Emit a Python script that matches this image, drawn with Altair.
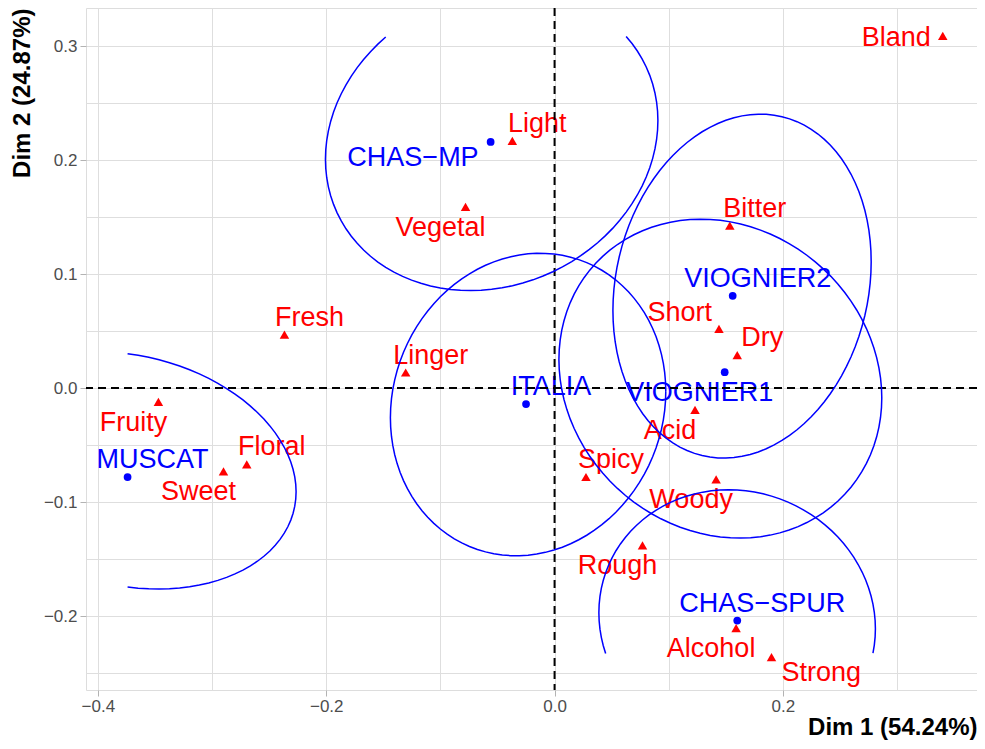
import numpy as np
import pandas as pd
import altair as alt

# ---------------- data ----------------
row_names = ["CHAS\u2212MP", "VIOGNIER2", "VIOGNIER1", "ITALIA", "MUSCAT", "CHAS\u2212SPUR"]
row_x = [-0.056, 0.156, 0.149, -0.025, -0.374, 0.160]
row_y = [0.216, 0.081, 0.014, -0.014, -0.078, -0.204]
row_place = ["wsw", "ne", "sw", "ne", "ne", "ne"]

col_names = ["Bland", "Light", "Vegetal", "Bitter", "Fresh", "Short", "Dry", "Linger",
             "Fruity", "Acid", "Floral", "Sweet", "Spicy", "Woody", "Rough", "Alcohol", "Strong"]
col_x = [0.340, -0.037, -0.078, 0.1535, -0.2366, 0.144, 0.160, -0.1304,
         -0.347, 0.123, -0.2696, -0.290, 0.0275, 0.1415, 0.077, 0.159, 0.190]
col_y = [0.309, 0.217, 0.159, 0.1426, 0.047, 0.052, 0.029, 0.0137,
         -0.012, -0.019, -0.067, -0.073, -0.078, -0.080, -0.138, -0.2105, -0.236]
col_place = ["w", "ne", "sw", "ne", "ne", "nw", "ne", "ne",
             "sw", "sw", "ne", "sw", "ne", "sw", "sw", "sw", "se"]

# confidence ellipses: centre, spread along each axis, correlation
ell_names = row_names
ell_cx = [-0.0551, 0.1642, 0.1452, -0.0232, -0.374, 0.1599]
ell_cy = [0.2178, 0.0895, 0.0083, -0.0144, -0.0722, -0.2041]
ell_sx = [0.1456, 0.1131, 0.1414, 0.1206, 0.1476, 0.1211]
ell_sy = [0.1322, 0.1509, 0.1399, 0.1327, 0.1041, 0.1149]
ell_rho = [0.128, 0.142, -0.120, 0.087, -0.180, -0.061]

x_title = "Dim 1 (54.24%)"
y_title = "Dim 2 (24.87%)"
x_grid_values = [-0.4, -0.3, -0.2, -0.1, 0.0, 0.1, 0.2, 0.3]
y_grid_values = [-0.25, -0.2, -0.15, -0.1, -0.05, 0.0, 0.05, 0.1, 0.15, 0.2, 0.25, 0.3]

# ---------------- tables ----------------
rows = pd.DataFrame({"label": row_names, "x": row_x, "y": row_y, "place": row_place})
cols = pd.DataFrame({"label": col_names, "x": col_x, "y": col_y, "place": col_place})

all_x = np.array(row_x + col_x)
all_y = np.array(row_y + col_y)
xmin, xmax = all_x.min(), all_x.max()
ymin, ymax = all_y.min(), all_y.max()
x_lo = xmin - 0.051 * (xmax - xmin)
x_hi = xmax + 0.042 * (xmax - xmin)
y_lo = ymin - 0.053 * (ymax - ymin)
y_hi = ymax + 0.045 * (ymax - ymin)

recs = []
n = 100
t = np.linspace(0, 2 * np.pi, n, endpoint=False)
for name, cx, cy, sx, sy, r in zip(ell_names, ell_cx, ell_cy, ell_sx, ell_sy, ell_rho):
    ex = cx + sx * np.cos(t)
    ey = cy + sy * (r * np.cos(t) + np.sqrt(1 - r * r) * np.sin(t))
    inside = (ex >= xmin) & (ex <= xmax) & (ey >= ymin) & (ey <= ymax)
    if inside.all():
        ex = np.append(ex, ex[0])
        ey = np.append(ey, ey[0])
        keep = np.ones(len(ex), bool)
    else:
        start = [i for i in range(n) if inside[i] and not inside[i - 1]][0]
        ex = np.roll(ex, -start)
        ey = np.roll(ey, -start)
        keep = np.roll(inside, -start)
    for k, (a, b, kk) in enumerate(zip(ex, ey, keep)):
        if kk:
            recs.append({"name": name, "k": k, "x": float(a), "y": float(b)})
ell = pd.DataFrame(recs)

FONT = "Liberation Sans"

x_major = "abs(datum.value*5 - round(datum.value*5)) < 0.000001"
y_major = "abs(datum.value*10 - round(datum.value*10)) < 0.000001"

common_axis = dict(
    grid=True, gridColor="#DEDEDE", gridWidth=1, domain=False,
    tickColor="#B3B3B3", tickWidth=1, tickSize=6,
    labelFont=FONT, labelFontSize=17, labelColor="#4D4D4D",
    titleFont=FONT, titleFontSize=24, titleFontWeight="bold", titleColor="black",
    titleAnchor="end", labelOverlap=False, labelFlush=False, format=".1f",
)

x_axis = alt.Axis(
    title=x_title, values=x_grid_values,
    labelExpr=f"{x_major} ? datum.label : ''",
    tickOpacity={"condition": {"test": f"!({x_major})", "value": 0}, "value": 1},
    labelPadding=2, titleBaseline="alphabetic", titleY=44, **common_axis)
y_axis = alt.Axis(
    title=y_title, values=y_grid_values,
    labelExpr=f"{y_major} ? datum.label : ''",
    tickOpacity={"condition": {"test": f"!({y_major})", "value": 0}, "value": 1},
    labelPadding=3, titlePadding=9, **common_axis)

X = alt.X("x:Q", scale=alt.Scale(domain=[x_lo, x_hi], nice=False, zero=False), axis=x_axis)
Y = alt.Y("y:Q", scale=alt.Scale(domain=[y_lo, y_hi], nice=False, zero=False), axis=y_axis)

row_pts = alt.Chart(rows).mark_point(shape="circle", filled=True, size=60, opacity=1, color="#0000FF").encode(x=X, y=Y)
col_pts = alt.Chart(cols).mark_point(shape="triangle-up", filled=True, size=90, opacity=1, color="#FF0000").encode(x=X, y=Y)

place_style = {
    "ne": dict(align="center", dx=25, dy=-9),
    "sw": dict(align="center", dx=-25, dy=29),
    "w": dict(align="right", dx=-12, dy=10),
    "nw": dict(align="right", dx=-7, dy=-8),
    "se": dict(align="left", dx=10, dy=24),
    "wsw": dict(align="right", dx=-12, dy=24),
}

text_layers = []
for df, colr in ((cols, "#FF0000"), (rows, "#0000FF")):
    for p, st in place_style.items():
        if (df["place"] == p).any():
            text_layers.append(
                alt.Chart(df).transform_filter(alt.datum.place == p)
                .mark_text(font=FONT, fontSize=27, color=colr, baseline="alphabetic", **st)
                .encode(x=X, y=Y, text="label:N"))

vrule = alt.Chart(pd.DataFrame({"x": [0.0]})).mark_rule(color="black", strokeDash=[8, 5], strokeWidth=2).encode(x=X)
hrule = alt.Chart(pd.DataFrame({"y": [0.0]})).mark_rule(color="black", strokeDash=[8, 5], strokeWidth=2).encode(y=Y)

ell_layer = alt.Chart(ell).mark_line(color="#0000FF", strokeWidth=1.5).encode(
    x=X, y=Y, detail="name:N", order="k:Q")

chart = alt.layer(row_pts, col_pts, *text_layers, vrule, hrule, ell_layer).properties(
    width=891, height=682,
    autosize=alt.AutoSizeParams(type="none"),
    padding={"left": 78, "top": 0, "right": 0, "bottom": 51},
).configure_view(stroke="#B3B3B3", strokeWidth=1).configure(background="white")

chart.save("out.html", embed_options={"renderer": "svg", "actions": False})
